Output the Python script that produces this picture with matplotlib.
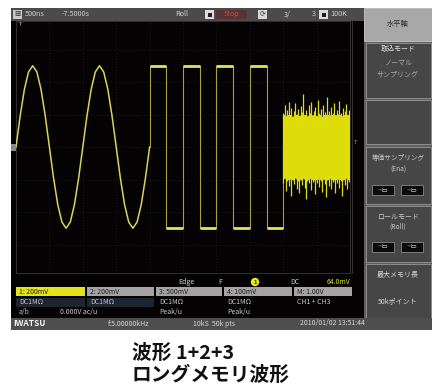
import matplotlib
matplotlib.use("Agg")
import matplotlib.pyplot as plt
from matplotlib.patches import Rectangle, Circle
import numpy as np

plt.rcParams['font.family'] = ['Noto Sans CJK JP', 'DejaVu Sans']

# ---- trace data (divisions) ----
sine_step = 0.125
sine_trace = [0.00, 0.96, 1.77, 2.31, 2.50, 2.31, 1.77, 0.96, 0.00, -0.96, -1.77,
              -2.31, -2.50, -2.31, -1.77, -0.96, 0.00, 0.96, 1.77, 2.31, 2.50, 2.31,
              1.77, 0.96, 0.00, -0.96, -1.77, -2.31, -2.50, -2.31, -1.77, -0.96, 0.00]

square_edges = [4.0, 4.5, 5.0, 5.5, 6.0, 6.5, 7.0, 7.5, 8.0]
square_levels = [2.48, -2.50, 2.48, -2.50, 2.48, -2.50, 2.48, -2.50]

noise_start = 8.0
noise_step = 0.04
noise_upper = [1.05, 1.30, 0.95, 1.15, 1.40, 1.00, 1.20, 0.92, 1.10, 1.35,
               1.02, 1.18, 0.96, 1.25, 1.08, 1.62, 1.00, 1.15, 0.94, 1.28,
               1.06, 1.38, 0.98, 1.12, 1.22, 0.95, 1.45, 1.04, 1.16, 0.93,
               1.30, 1.08, 1.00, 1.55, 1.10, 0.97, 1.24, 1.05, 1.34, 0.99,
               1.14, 1.02, 1.42, 1.06, 0.95, 1.20, 1.10, 1.32, 1.00, 1.15]
noise_lower = [-1.10, -0.95, -1.35, -1.05, -1.20, -0.98, -1.50, -1.02, -1.15, -0.94,
               -1.28, -1.06, -1.40, -1.00, -1.18, -0.96, -1.25, -1.60, -1.04, -1.12,
               -0.95, -1.32, -1.08, -1.00, -1.45, -1.10, -0.97, -1.22, -1.05, -1.38,
               -0.99, -1.15, -1.55, -1.02, -1.20, -0.96, -1.30, -1.08, -1.00, -1.42,
               -1.12, -0.98, -1.25, -1.06, -1.50, -1.00, -1.18, -0.95, -1.30, -1.08]
noise_core = 1.0

# ---- screen labels ----
channel_labels = ["1: 200mV", "2: 200mV", "3: 500mV", "4: 100mV", "M: 1.00V"]
coupling_labels = ["DC1MΩ", "DC1MΩ", "DC1MΩ", "DC1MΩ", "CH1 + CH3"]
mode_labels = ["0.000V ac/u", "Peak/u", "Peak/u"]
menu_title = "水平軸"
caption_lines = ["波形 1+2+3", "ロングメモリ波形"]

fig = plt.figure(figsize=(4.32, 3.88), dpi=100)
fig.patch.set_facecolor("white")

bg = fig.add_axes([0, 0, 1, 1], zorder=0)
bg.set_xlim(0, 432)
bg.set_ylim(388, 0)
bg.axis("off")


def rect(x0, y0, x1, y1, fc, ec="none", lw=0.0, z=1):
    bg.add_patch(Rectangle((x0, y0), x1 - x0, y1 - y0, facecolor=fc,
                           edgecolor=ec, linewidth=lw, zorder=z))


def txt(x, y, s, size=5.0, color="#d0d0d0", ha="left", weight="normal", z=5):
    bg.text(x, y, s, fontsize=size, color=color, ha=ha, va="center",
            fontweight=weight, zorder=z)


# screen body
rect(11, 8, 432, 330, "#050203")

# top status bar
rect(11, 8, 364, 21, "#4c4a4a")
rect(13, 10, 22, 19, "#c8c8c8")
txt(17.5, 14.5, "▦", 4.5, "#303030", ha="center")
txt(25, 14.5, "500ns", 5.2)
txt(62, 14.5, "-7.5000s", 5.2)
txt(175, 14.5, "Roll", 5.2)
rect(205, 10, 214, 19, "#dcdcdc")
rect(207.5, 12.5, 211.5, 16.5, "#202020", z=2)
rect(216, 10, 247, 19, "#5a3434")
txt(231, 14.5, "Stop", 5.2, "#c84848", ha="center")
rect(258, 10, 267, 19, "#d8d8d8")
txt(262.5, 14.5, "⟳", 5, "#303030", ha="center")
txt(284, 14.5, "3/", 5.2)
txt(312, 14.5, "3", 5.2)
rect(319, 10, 328, 19, "#dcdcdc")
rect(321.5, 12.5, 325.5, 16.5, "#202020", z=2)
txt(330, 14.5, "100K", 5.2)

# right-hand menu panel
rect(364, 8, 432, 319, "#5e5e5e")
rect(364, 8, 432, 41, "#a8a8a8", "#c8c8c8", 0.6, z=2)
txt(398, 24, menu_title, 5.2, "#2c2c2c", ha="center")

buttons = [(43, 98), (100, 144), (147, 204), (206, 262), (264, 318)]
for y0, y1 in buttons:
    rect(366, y0, 431, y1, "#464646", "#8e8e8e", 0.7, z=2)

txt(398, 49, "取込モード", 5.0, "#e0e0e0", ha="center")
txt(398, 63, "ノーマル", 5.0, "#a8a8a8", ha="center")
txt(398, 75, "サンプリング", 5.0, "#a8a8a8", ha="center")
txt(398, 158, "等価サンプリング", 4.8, "#c8c8c8", ha="center")
txt(398, 170, "(Ena)", 4.8, "#c8c8c8", ha="center")
txt(398, 216, "ロールモード", 5.0, "#c8c8c8", ha="center")
txt(398, 227, "(Roll)", 4.8, "#c8c8c8", ha="center")
for yc in (190, 247):
    for x0 in (372, 401):
        rect(x0, yc - 5, x0 + 22, yc + 5, "#0c0c0c", "#9a9a9a", 0.5, z=3)
        txt(x0 + 11, yc, "⊣▭", 4.2, "#e8e8e8", ha="center", z=6)
txt(398, 275, "最大メモリ長", 5.0, "#d8d8d8", ha="center")
txt(398, 301, "50kポイント", 5.0, "#d8d8d8", ha="center")

# markers beside the graticule
rect(11, 144, 16, 151, "#8a8a8a", z=3)
txt(20, 24, "T", 4.0, "#c8c8c8", ha="center")
txt(355, 142, "T", 4.0, "#a0a0a0", ha="center")
bg.plot([352, 352], [21, 273], color="#3a3838", lw=0.6, zorder=2)

# trigger row
txt(178, 282, "Edge", 5.0)
txt(218, 282, "F", 5.0)
bg.add_patch(Circle((255, 282), 4.2, facecolor="#e8e820", edgecolor="none", zorder=4))
txt(255, 282, "1", 4.2, "#202020", ha="center", weight="bold", z=6)
txt(290, 282, "DC", 5.0)
txt(327, 282, "64.0mV", 5.0, "#e0e020")

# channel rows
box_x = [(16, 85), (87, 154), (156, 222), (224, 292), (294, 352)]
for i, ((x0, x1), lab) in enumerate(zip(box_x, channel_labels)):
    fc = "#e4e41c" if i == 0 else "#a4a4a4"
    rect(x0, 287, x1, 296, fc, z=2)
    txt(x0 + 3, 291.5, lab, 5.0, "#1c1c1c")
for (x0, x1) in box_x[:2]:
    rect(x0, 298, x1, 307, "#1e2430", z=2)
for (x0, x1), lab in zip(box_x, coupling_labels):
    txt(x0 + 3, 302.5, lab, 5.0, "#c8c8c8")
txt(19, 312, "a/b", 5.0, "#b8b8c8")
txt(60, 312, mode_labels[0], 5.0, "#c8c8c8")
txt(159, 312, mode_labels[1], 5.0, "#c8c8c8")
txt(227, 312, mode_labels[2], 5.0, "#c8c8c8")

# bottom status line
rect(11, 318, 432, 330, "#4e4e4e", z=3)
txt(13, 323.5, "IWATSU", 6.0, "#f4f4f4", weight="bold", z=6)
txt(108, 323.5, "f:5.00000kHz", 5.0, "#d8d8d8", z=6)
txt(193, 323.5, "10kS  50k pts", 5.0, "#d8d8d8", z=6)
txt(300, 323.5, "2010/01/02 13:51:44", 5.0, "#d8d8d8", z=6)

# caption
bg.text(132, 353, caption_lines[0], fontsize=14.2, fontweight="bold",
        color="#111111", ha="left", va="center")
bg.text(132, 375, caption_lines[1], fontsize=14.2, fontweight="bold",
        color="#111111", ha="left", va="center")

# ---- graticule and traces ----
half = (147 - 21) / 32.5
ax = fig.add_axes([16 / 432, (388 - 273) / 388, 334 / 432, 252 / 388], zorder=2)
ax.set_facecolor("none")
ax.set_xlim(0, 10)
ax.set_ylim(-half, half)
for s in ax.spines.values():
    s.set_color("#3a3636")
    s.set_linewidth(0.6)
ax.set_xticks([])
ax.set_yticks([])
for gx in range(1, 10):
    ax.axvline(gx, color="#342c2c", lw=0.5, ls=(0, (1, 3)), zorder=1)
for gy in range(-3, 4):
    ax.axhline(gy, color="#342c2c", lw=0.5, ls=(0, (1, 3)), zorder=1)

sine_x = np.arange(len(sine_trace)) * sine_step
ax.plot(sine_x, sine_trace, color="#d8d45a", lw=1.1, zorder=3,
        solid_joinstyle="round")

sq_x = [square_edges[0]]
sq_y = [sine_trace[-1]]
for i, lvl in enumerate(square_levels):
    sq_x += [square_edges[i], square_edges[i + 1]]
    sq_y += [lvl, lvl]
sq_x.append(square_edges[-1])
sq_y.append(0.0)
ax.plot(sq_x, sq_y, color="#a4a240", lw=0.8, zorder=3)
ax.hlines(square_levels, square_edges[:-1], square_edges[1:],
          color="#e8e24a", lw=2.0, zorder=4)

noise_x = noise_start + np.arange(len(noise_upper)) * noise_step
up = np.array(noise_upper)
lo = np.array(noise_lower)
ax.fill_between(noise_x, np.minimum(up, noise_core), np.maximum(lo, -noise_core),
                color="#e2e000", lw=0, zorder=4)
ax.vlines(noise_x, lo, up, color="#dcdc10", lw=0.9, zorder=4)

fig.savefig("out.png", dpi=100, facecolor="white")
